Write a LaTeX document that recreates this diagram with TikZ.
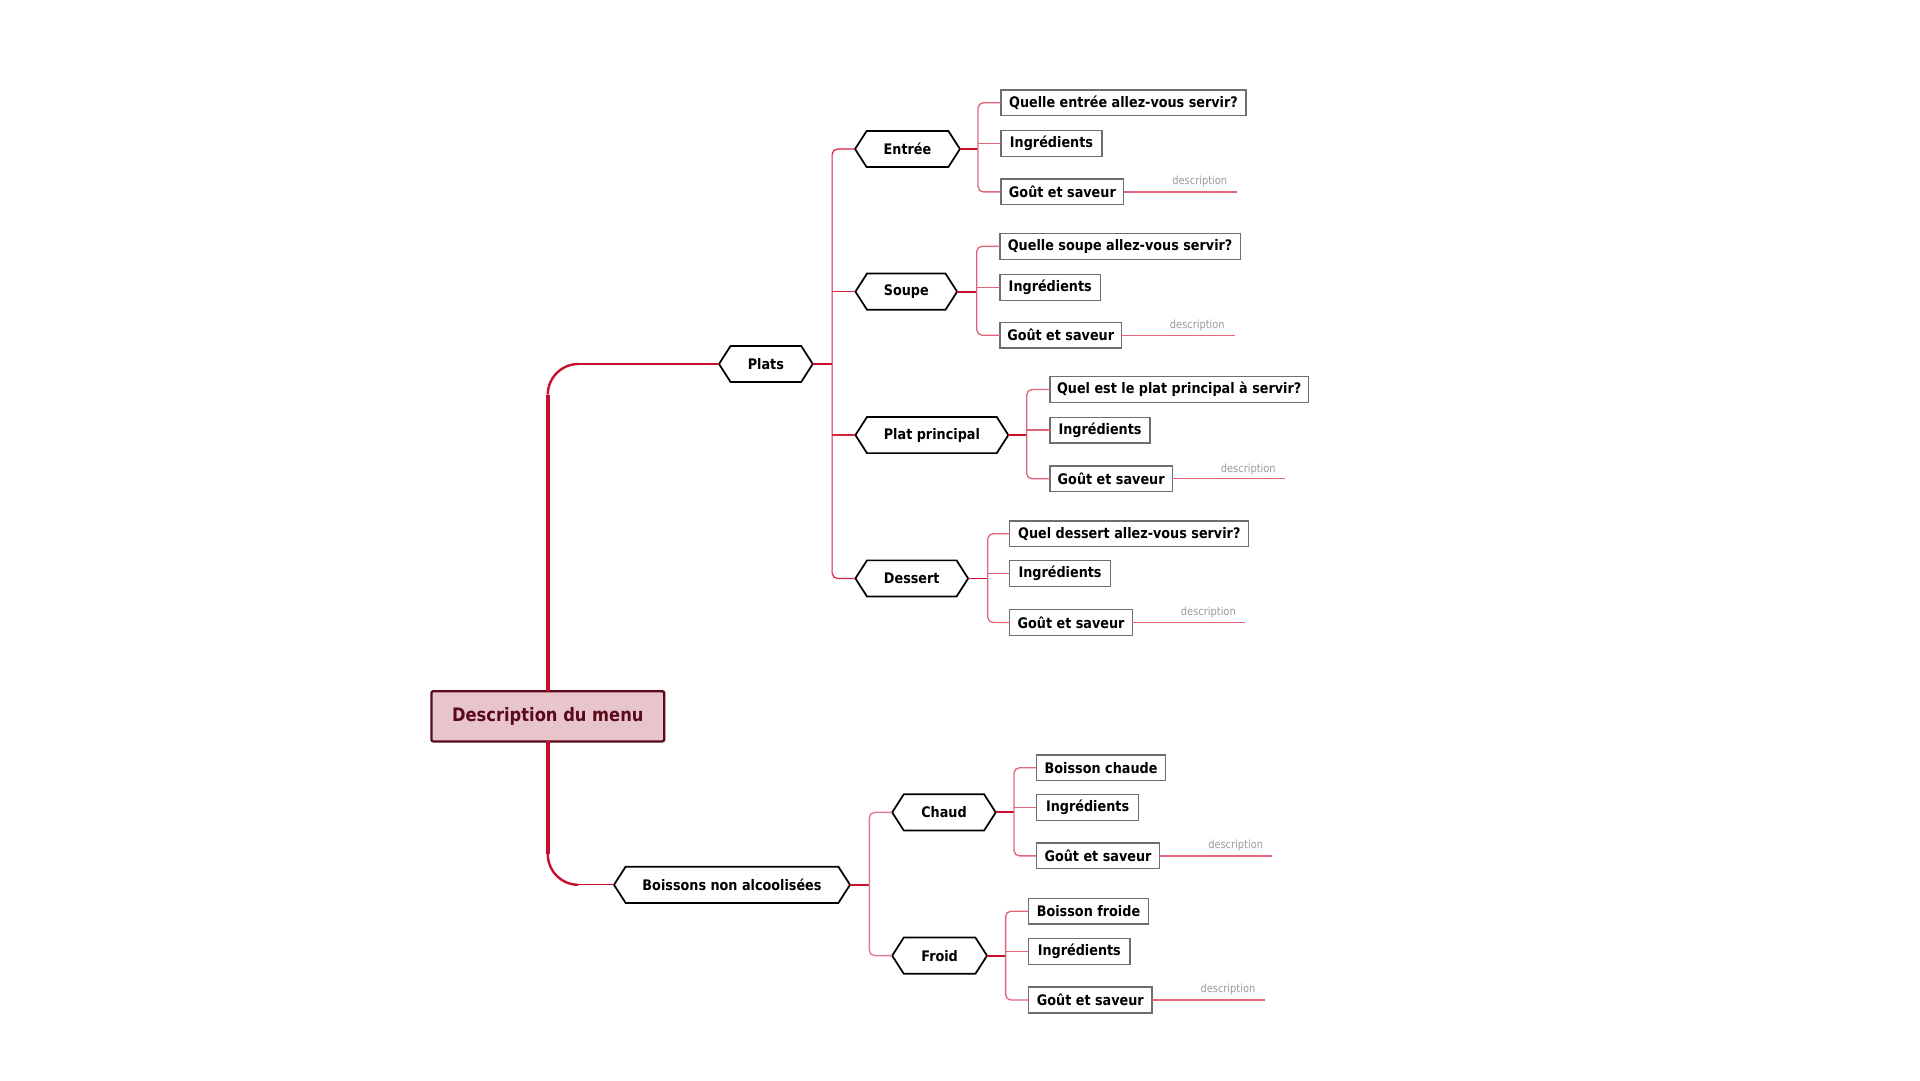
\documentclass[tikz,border=0pt]{standalone}
\usepackage{fontspec}
\setmainfont{DejaVu Sans}[FakeStretch=0.88]
\definecolor{trunkred}{HTML}{C8102E}
\definecolor{busred}{HTML}{D42545}
\definecolor{buspink}{HTML}{E27A8C}
\definecolor{leafline}{HTML}{E0657B}
\definecolor{leafgray}{HTML}{6E6E6E}
\definecolor{rootfill}{HTML}{E8C5CB}
\definecolor{rootdark}{HTML}{5A0A1C}
\definecolor{descgray}{HTML}{9A9A9A}
\tikzset{
  hexbox/.style={inner sep=0pt, outer sep=0pt, minimum height=27.1pt,
    font=\fontsize{10.9}{12}\selectfont\bfseries, text=black},
  hexline/.style={draw=black, line width=1.3pt, line join=miter},
  leafbox/.style={draw=leafgray, line width=1pt, inner sep=0pt, outer sep=0pt,
    minimum height=19.3pt, fill=white, font=\fontsize{10.9}{12}\selectfont\bfseries, text=black},
  rootbox/.style={draw=rootdark, fill=rootfill, line width=1.7pt, rounded corners=1.5pt,
    inner sep=0pt, outer sep=0pt, font=\fontsize{13.9}{16}\selectfont\bfseries, text=rootdark},
  trunkline/.style={draw=trunkred, line width=2.6pt},
  trunkcurve/.style={draw=trunkred, line width=1.8pt},
  trunkthin/.style={draw=trunkred, line width=0.9pt},
  tipline/.style={draw=trunkred, line width=1.4pt},
  busone/.style={draw=busred, line width=0.9pt, rounded corners=4pt},
  bustwo/.style={draw=buspink, line width=1pt, rounded corners=4pt},
  leafbus/.style={draw=leafline, line width=1pt, rounded corners=4pt},
  descline/.style={draw=leafline, line width=1pt},
  desctext/.style={inner sep=0pt, font=\fontsize{8.4}{10}\selectfont, text=descgray}
}
\newcommand\hexn[5]{%
  \node[hexbox, minimum width={(#3-#2)*0.9191pt}] (#1) at ({(#2+#3)/2},#4) {#5};
  \draw[hexline] (#1.west) -- ([xshift=8.7pt]#1.north west) -- ([xshift=-8.7pt]#1.north east)
    -- (#1.east) -- ([xshift=-8.7pt]#1.south east) -- ([xshift=8.7pt]#1.south west) -- cycle;
}
\newcommand\leafn[5]{%
  \node[leafbox, minimum width={(#3-#2)*0.9191pt}] (#1) at ({(#2+#3)/2},#4) {#5};
}
% group: #1 prefix, #2 hex node, #3 bus x, #4 desc end x, #5 desc text x, #6 desc text y
\newcommand\leafwires[6]{%
  \coordinate (#1bus) at (#3,0);
  \draw[tipline] (#2.east) -- (#2.east -| #1bus);
  \draw[leafbus] (#1q.west) -- (#1q.west -| #1bus) -- (#1g.west -| #1bus) -- (#1g.west);
  \draw[leafbus] (#1i.west) -- (#1i.west -| #1bus);
  \coordinate (#1dend) at (#4,0);
  \draw[descline] (#1g.east) -- (#1g.east -| #1dend);
  \node[desctext] (#1dt) at (#5,#6) {description};
}
\begin{document}
\begin{tikzpicture}[x=0.9191pt, y=-0.9191pt]
\useasboundingbox (0,0) rectangle (1566.7,881.3);

% root
\node[rootbox, minimum width={190*0.9191pt}, minimum height={41*0.9191pt}] (root) at (447,584.5) {Description du menu};

% level 1
\hexn{plats}{586.7}{663.2}{297}{Plats}
\hexn{boissons}{501}{693.6}{722}{Boissons non alcoolisées}

% trunk
\coordinate (tk1) at (447,322);
\coordinate (tk2) at (472,297);
\coordinate (tk3) at (447,697);
\coordinate (tk4) at (472,722);
\draw[trunkline] (root.north) -- (tk1);
\draw[trunkcurve] (tk1) .. controls (447,308.2) and (458.2,297) .. (tk2);
\draw[trunkthin] (tk2) -- (plats.west);
\draw[trunkline] (root.south) -- (tk3);
\draw[trunkcurve] (tk3) .. controls (447,710.8) and (458.2,722) .. (tk4);
\draw[trunkthin] (tk4) -- (boissons.west);

% level 2 - Plats
\hexn{entree}{697.7}{783.3}{121.6}{Entrée}
\hexn{soupe}{698}{781}{238}{Soupe}
\hexn{platp}{698}{822.8}{355}{Plat principal}
\hexn{dessert}{698}{790}{472}{Dessert}
\coordinate (pbus) at (679,297);
\draw[tipline] (plats.east) -- (pbus);
\draw[busone] (entree.west) -- (entree.west -| pbus) -- (dessert.west -| pbus) -- (dessert.west);
\draw[busone] (soupe.west) -- (soupe.west -| pbus);
\draw[busone] (platp.west) -- (platp.west -| pbus);

% level 2 - Boissons
\hexn{chaud}{728}{812.5}{662.9}{Chaud}
\hexn{froid}{728}{805.4}{779.8}{Froid}
\coordinate (bbus) at (709.4,722);
\draw[tipline] (boissons.east) -- (bbus);
\draw[bustwo] (chaud.west) -- (chaud.west -| bbus) -- (froid.west -| bbus) -- (froid.west);

% leaves - Entrée
\leafn{eq}{816.8}{1016.7}{83.9}{Quelle entrée allez-vous servir?}
\leafn{ei}{816.8}{899.2}{117}{Ingrédients}
\leafn{eg}{816.8}{917}{156.6}{Goût et saveur}
\leafwires{e}{entree}{798}{1009}{979}{147.7}

% leaves - Soupe
\leafn{sq}{816}{1012}{201}{Quelle soupe allez-vous servir?}
\leafn{si}{816}{898}{234.5}{Ingrédients}
\leafn{sg}{816}{915}{273.5}{Goût et saveur}
\leafwires{s}{soupe}{797}{1008}{977}{265.5}

% leaves - Plat principal
\leafn{pq}{856.8}{1067.6}{317.8}{Quel est le plat principal à servir?}
\leafn{pi}{856.8}{938.4}{351}{Ingrédients}
\leafn{pg}{856.8}{956.6}{390.7}{Goût et saveur}
\leafwires{p}{platp}{837.8}{1048.5}{1018.6}{382.7}

% leaves - Dessert
\leafn{dq}{824}{1019}{435.5}{Quel dessert allez-vous servir?}
\leafn{di}{824}{906}{468}{Ingrédients}
\leafn{dg}{824}{924}{508}{Goût et saveur}
\leafwires{d}{dessert}{806}{1016}{986}{499.5}

% leaves - Chaud
\leafn{cq}{845.9}{951}{626.5}{Boisson chaude}
\leafn{ci}{845.9}{929}{659}{Ingrédients}
\leafn{cg}{845.9}{946}{698.4}{Goût et saveur}
\leafwires{c}{chaud}{827.4}{1037.7}{1008.3}{690}

% leaves - Froid
\leafn{fq}{839.4}{937}{743.5}{Boisson froide}
\leafn{fi}{839.4}{922}{776.5}{Ingrédients}
\leafn{fg}{839.4}{940}{816}{Goût et saveur}
\leafwires{f}{froid}{820.6}{1032}{1002}{807.5}
\end{tikzpicture}
\end{document}
